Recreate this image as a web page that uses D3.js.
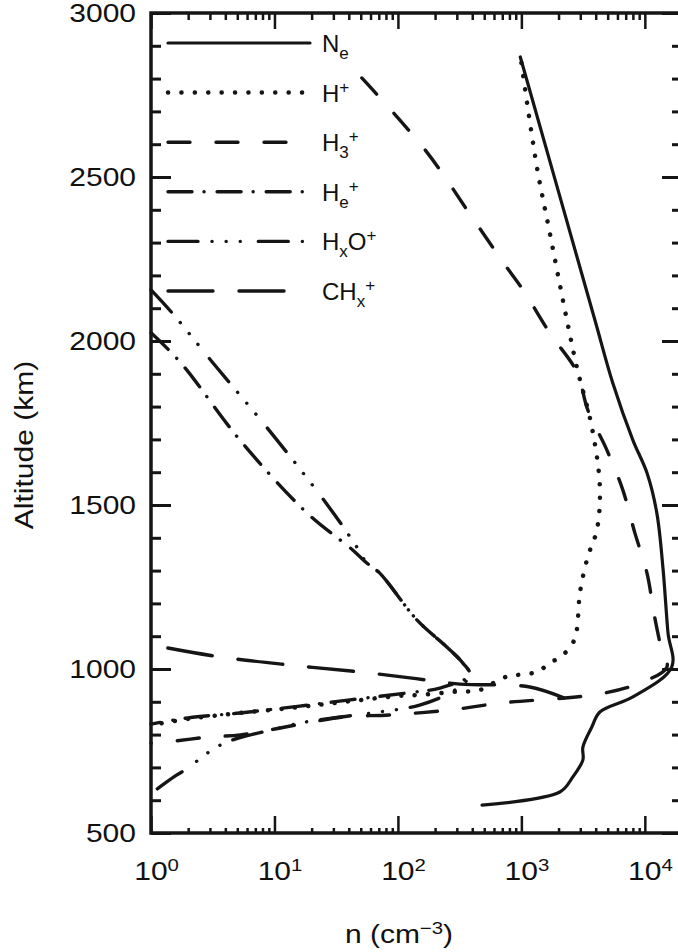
<!DOCTYPE html>
<html>
<head>
<meta charset="utf-8">
<script src="https://cdn.jsdelivr.net/npm/d3@7"></script>
<style>
  body { margin: 0; background: #fff; }
  text { font-family: "Liberation Sans", Arial, sans-serif; fill: #111; }
</style>
</head>
<body>
<script>
// values: [density cm^-3, altitude km]
var ne = [[980,2866],[3940,2064],[5500,1872],[8000,1698],[10400,1598],[12500,1476],[14000,1311],
  [15400,1110],[16500,1006],[8000,915],[4320,869],[3720,823],[3150,762],[3150,723],[2610,671],
  [2050,625],[480,585]];
var hPlus = [[1000,2848],[1335,2531],[1700,2329],[2250,2095],[2810,1921],[3720,1738],[4320,1555],
  [4090,1424],[3450,1342],[2980,1232],[2810,1119],[2610,1079],[2170,1043],[1700,1018],[1335,991],
  [940,982],[708,973],[461,936],[279,930],[151,921],[110,919],[41,902],[16,884],[5.3,866],[2.0,848],[1.0,829]];
var h3Plus = [[51,2802],[169,2579],[397,2378],[708,2241],[1030,2156],[1700,2024],[2810,1906],[3450,1790],
  [4920,1668],[6630,1546],[8300,1415],[10400,1293],[12000,1159],[13700,1058],[15100,1006],[9100,957],
  [4320,924],[670,896],[264,875],[86,860],[37,854],[18,835],[5.3,799],[3.0,793],[1.3,777],[1.0,774]];
var hePlus = [[1.0,2025],[1.72,1936],[5.25,1698],[18.3,1476],[43,1363],[56,1323],[71,1293],[143,1149],
  [249,1067],[336,1018],[383,982],[219,942],[118,927],[41,906],[16,887],[5.25,866],[2.0,851],[1.0,832]];
var hxoPlus = [[1.0,2156],[1.48,2086],[3.18,1933],[9.7,1714],[28,1491],[47,1369],[56,1323],[71,1293],
  [143,1149],[249,1067],[336,1018],[383,982],[290,936],[150,890],[71,869],[30,851],[16,835],[11,820],
  [4.6,784],[3.4,762],[2.6,732],[2.0,698],[1.62,677],[1.3,652],[1.04,625]];
var chxPlus = [[1.37,1064],[3.6,1037],[13.4,1012],[49,991],[125,973],[318,954],[1170,945],[2570,902]];

var yTicks = [500, 1000, 1500, 2000, 2500, 3000];
var xTicks = [1, 10, 100, 1000, 10000];
var xTickExp = ["0", "1", "2", "3", "4"];

var width = 678, height = 952;
var ink = "#151515";

var x = d3.scaleLog().domain([1, 2e4]).range([151, 682]);
var y = d3.scaleLinear().domain([500, 3000]).range([833, 13]);

var svg = d3.select("body").append("svg")
  .attr("width", width)
  .attr("height", height);

svg.append("rect").attr("width", width).attr("height", height).attr("fill", "#fff");

// ticks (all pointing inward)
var yMinor = d3.range(500, 3001, 100).filter(function(v) { return v % 500 !== 0; });
var xMinor = x.ticks().filter(function(v) { return xTicks.indexOf(v) < 0; });

function drawAxis(axis, tx, ty, sw) {
  var g = svg.append("g").attr("transform", "translate(" + tx + "," + ty + ")").call(axis);
  g.select(".domain").remove();
  g.selectAll("line").attr("stroke", ink).attr("stroke-width", sw);
  g.selectAll("text").remove();
}

drawAxis(d3.axisLeft(y).tickValues(yMinor).tickSize(-10), 151, 0, 3);
drawAxis(d3.axisLeft(y).tickValues(yTicks).tickSize(-20), 151, 0, 3);
drawAxis(d3.axisRight(y).tickValues(yMinor).tickSize(-10), 682, 0, 3);
drawAxis(d3.axisRight(y).tickValues(yTicks).tickSize(-20), 682, 0, 3);
drawAxis(d3.axisBottom(x).tickValues(xMinor).tickSize(-5), 0, 833, 2.5);
drawAxis(d3.axisBottom(x).tickValues(xTicks).tickSize(-17), 0, 833, 2.5);
drawAxis(d3.axisTop(x).tickValues(xMinor).tickSize(-7), 0, 13, 2.5);
drawAxis(d3.axisTop(x).tickValues(xTicks).tickSize(-16), 0, 13, 2.5);

// frame
svg.append("rect")
  .attr("x", 151).attr("y", 13)
  .attr("width", 682 - 151).attr("height", 833 - 13)
  .attr("fill", "none").attr("stroke", ink).attr("stroke-width", 3.5);

// tick labels
yTicks.forEach(function(v) {
  svg.append("text")
    .attr("transform", "translate(136," + (y(v) + 9) + ") scale(1.2,1)")
    .attr("text-anchor", "end")
    .attr("font-size", 25)
    .text(v);
});

xTicks.forEach(function(v, i) {
  var t = svg.append("text")
    .attr("transform", "translate(" + x(v) + ",880) scale(1.2,1)")
    .attr("x", -14)
    .attr("font-size", 25);
  t.append("tspan").text("10");
  t.append("tspan").attr("font-size", 17).attr("dy", -9).text(xTickExp[i]);
});

// axis titles
svg.append("text")
  .attr("transform", "translate(33,445) rotate(-90) scale(1.2,1)")
  .attr("text-anchor", "middle")
  .attr("font-size", 25)
  .text("Altitude (km)");

var xt = svg.append("text")
  .attr("transform", "translate(399,943) scale(1.2,1)")
  .attr("text-anchor", "middle")
  .attr("font-size", 25);
xt.append("tspan").text("n (cm");
xt.append("tspan").attr("font-size", 17).attr("dy", -9).text("\u22123");
xt.append("tspan").attr("dy", 9).text(")");

// series
var series = [
  { data: ne, dash: null, w: 3.2, label: [["N"], ["e", "sub"]] },
  { data: hPlus, dash: "0.1 13.3", w: 4.5, label: [["H"], ["+", "sup"]] },
  { data: h3Plus, dash: "22 26", w: 3.4, label: [["H"], ["3", "sub"], ["+", "sup"]] },
  { data: hePlus, dash: "24 12 0.1 13", w: 3.4, label: [["H"], ["e", "sub"], ["+", "sup"]] },
  { data: hxoPlus, dash: "30 14 0.1 14 0.1 14 0.1 18", w: 3.4, label: [["H"], ["x", "sub"], ["O"], ["+", "sup"]] },
  { data: chxPlus, dash: "45 26", w: 3.4, label: [["CH"], ["x", "sub"], ["+", "sup"]] }
];

var line = d3.line()
  .x(function(d) { return x(d[0]); })
  .y(function(d) { return y(d[1]); })
  .curve(d3.curveCatmullRom.alpha(0.5));

series.forEach(function(s) {
  svg.append("path")
    .attr("d", line(s.data))
    .attr("fill", "none")
    .attr("stroke", ink)
    .attr("stroke-width", s.w)
    .attr("stroke-linecap", "round")
    .attr("stroke-linejoin", "round")
    .attr("stroke-dasharray", s.dash);
});

// legend
series.forEach(function(s, i) {
  var ly = 43 + i * 49.6;
  svg.append("line")
    .attr("x1", 168).attr("x2", 310)
    .attr("y1", ly).attr("y2", ly)
    .attr("stroke", ink)
    .attr("stroke-width", s.w)
    .attr("stroke-linecap", "round")
    .attr("stroke-dasharray", s.dash);

  var t = svg.append("text")
    .attr("x", 322).attr("y", ly + 9)
    .attr("font-size", 24);
  var level = 0;
  s.label.forEach(function(p) {
    var target = p[1] === "sub" ? 7 : (p[1] === "sup" ? -9 : 0);
    t.append("tspan")
      .attr("dy", target - level)
      .attr("font-size", p[1] ? 17 : 24)
      .text(p[0]);
    level = target;
  });
});
</script>
</body>
</html>
